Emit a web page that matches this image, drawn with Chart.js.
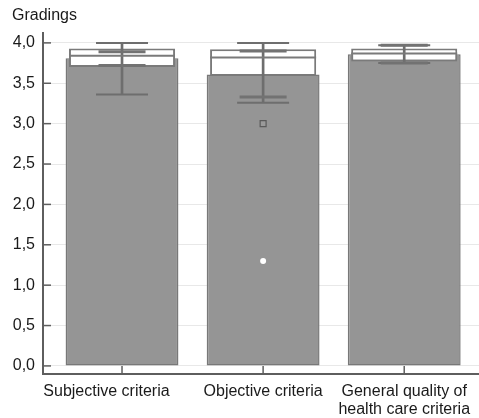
<!DOCTYPE html>
<html>
<head>
<meta charset="utf-8">
<script src="https://cdn.jsdelivr.net/npm/chart.js@4"></script>
<style>
  html, body { margin: 0; padding: 0; background: #ffffff; }
  #wrap { width: 479px; height: 418px; }
</style>
</head>
<body>
<div id="wrap"><canvas id="c" width="479" height="418"></canvas></div>
<script>
// ---- data ----
const categories = [['Subjective criteria       '], ['Objective criteria'], ['General quality of', 'health care criteria']];
const yTickValues = [0, 0.5, 1, 1.5, 2, 2.5, 3, 3.5, 4];
const yAxisTitle = 'Gradings';
const means       = [3.81, 3.61, 3.86];
const boxLow      = [3.70, 3.59, 3.77];
const boxHigh     = [3.93, 3.92, 3.93];
const medians     = [3.84, 3.82, 3.87];
const whiskerLow  = [3.36, 3.26, 3.75];
const whiskerHigh = [4.00, 4.00, 3.97];
const ciLow       = [3.72, 3.33, 3.75];
const ciHigh      = [3.89, 3.90, 3.97];
const outlierCat  = [1];
const outlierVal  = [3.0];
const extremeCat  = [1];
const extremeVal  = [1.3];

const idx = categories.map((c, i) => i);
const asRange = (lo, hi) => idx.map(i => ({ x: i, y: [lo[i], hi[i]] }));
const asPoints = (cats, vals) => cats.map((c, k) => ({ x: c, y: vals[k] }));

const inwardTicks = {
  id: 'inwardTicks',
  afterDraw(chart) {
    const { ctx, chartArea, scales } = chart;
    ctx.save();
    ctx.strokeStyle = '#5e5e5e';
    ctx.lineWidth = 1.5;
    scales.y.ticks.forEach(t => {
      const py = scales.y.getPixelForValue(t.value);
      ctx.beginPath(); ctx.moveTo(chartArea.left, py); ctx.lineTo(chartArea.left + 8, py); ctx.stroke();
    });
    scales.x.ticks.forEach(t => {
      const px = scales.x.getPixelForValue(t.value);
      ctx.beginPath(); ctx.moveTo(px, chartArea.bottom); ctx.lineTo(px, chartArea.bottom - 8); ctx.stroke();
    });
    ctx.restore();
  }
};

const zeroPad = s => { s.paddingLeft = 0; s.paddingRight = 0; s.paddingTop = 0; s.paddingBottom = 0; };

const lineMarks = (label, data, radius, width, color, order) => ({
  type: 'line', label, data, order, showLine: false,
  pointStyle: 'line', pointRadius: radius, pointHoverRadius: radius,
  pointBorderWidth: width, pointBorderColor: color, borderColor: color
});

new Chart(document.getElementById('c'), {
  type: 'bar',
  data: {
    datasets: [
      { label: 'Mean', data: asRange(idx.map(() => 0), means), order: 9, grouped: false,
        backgroundColor: '#959595', borderColor: '#787878', borderWidth: 1.5, borderSkipped: false,
        categoryPercentage: 0.8, barPercentage: 1.0 },
      { label: 'Box', data: asRange(boxLow, boxHigh), order: 8, grouped: false,
        backgroundColor: '#ffffff', borderColor: '#7a7a7a', borderWidth: 2, borderSkipped: false,
        categoryPercentage: 0.8, barPercentage: 0.94 },
      { label: 'Whisker', data: asRange(whiskerLow, whiskerHigh), order: 7, grouped: false,
        backgroundColor: '#6e6e6e', borderWidth: 0, barThickness: 2 },
      lineMarks('Median', asPoints(idx, medians), 53, 2, '#7a7a7a', 6),
      lineMarks('Cap low', asPoints(idx, whiskerLow), 26, 2, '#6e6e6e', 5),
      lineMarks('Cap high', asPoints(idx, whiskerHigh), 26, 2, '#6e6e6e', 5),
      lineMarks('CI low', asPoints(idx, ciLow), 23.5, 3, '#727272', 4),
      lineMarks('CI high', asPoints(idx, ciHigh), 23.5, 3, '#727272', 4),
      { type: 'line', label: 'Outlier', data: asPoints(outlierCat, outlierVal), order: 1, showLine: false,
        pointStyle: 'rect', pointRadius: 4.2, pointBorderWidth: 1.2,
        pointBorderColor: '#5a5a5a', pointBackgroundColor: '#9a9a9a' },
      { type: 'line', label: 'Extreme', data: asPoints(extremeCat, extremeVal), order: 0, showLine: false,
        pointStyle: 'circle', pointRadius: 3, pointBorderWidth: 0,
        pointBorderColor: '#ffffff', pointBackgroundColor: '#ffffff' }
    ]
  },
  options: {
    responsive: false,
    animation: false,
    devicePixelRatio: 1,
    layout: { autoPadding: false, padding: { left: 12, right: 0, top: 0, bottom: 0 } },
    plugins: {
      legend: { display: false },
      tooltip: { enabled: false },
      title: {
        display: true, text: yAxisTitle, align: 'start', color: '#1a1a1a',
        font: { family: 'Liberation Sans, Arial, sans-serif', size: 16, weight: 'normal' },
        padding: { top: 6, bottom: 8 }
      }
    },
    scales: {
      x: {
        type: 'linear', min: -0.56, max: 2.53, offset: false, bounds: 'data',
        afterBuildTicks: s => { s.ticks = idx.map(i => ({ value: i })); },
        afterFit: s => { s.height = 44; zeroPad(s); },
        grid: { display: false, drawTicks: false, offset: false },
        border: { display: true, color: '#5e5e5e', width: 2 },
        ticks: {
          autoSkip: false, maxRotation: 0, padding: 9, color: '#1a1a1a',
          font: { family: 'Liberation Sans, Arial, sans-serif', size: 16, lineHeight: 1.1 },
          callback: v => categories[v]
        }
      },
      y: {
        type: 'linear', min: -0.1, max: 4.12,
        afterBuildTicks: s => { s.ticks = yTickValues.map(v => ({ value: v })); },
        afterFit: s => { s.width = 31; zeroPad(s); },
        grid: { color: '#e8e8e8', lineWidth: 1, drawTicks: false },
        border: { display: true, color: '#5e5e5e', width: 2 },
        ticks: {
          padding: 8, color: '#1a1a1a',
          font: { family: 'Liberation Sans, Arial, sans-serif', size: 16 },
          callback: v => v.toFixed(1).replace('.', ',')
        }
      }
    }
  },
  plugins: [inwardTicks]
});
</script>
</body>
</html>
